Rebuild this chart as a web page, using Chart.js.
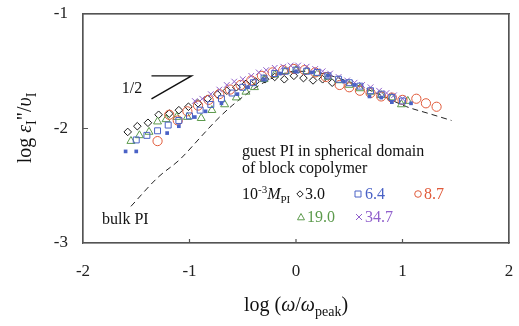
<!DOCTYPE html>
<html><head><meta charset="utf-8">
<script src="https://cdn.jsdelivr.net/npm/chart.js@4/dist/chart.umd.min.js"></script>
<style>html,body{margin:0;padding:0;background:#fff}canvas{display:block}</style>
</head><body>
<canvas id="c" width="519" height="326"></canvas>
<script>
// ---- data ----
const xTicks = [-2, -1, 0, 1, 2];
const yTicks = [-3, -2, -1];

const m30X = [-1.58,-1.49,-1.39,-1.29,-1.19,-1.10,-1.01,-0.92,-0.83,-0.74,-0.65,-0.56,-0.47,-0.38,-0.29,-0.20,-0.11,-0.02,0.07,0.16,0.25,0.34];
const m30Y = [-2.03,-1.98,-1.95,-1.88,-1.87,-1.84,-1.81,-1.78,-1.74,-1.70,-1.67,-1.64,-1.61,-1.59,-1.57,-1.55,-1.57,-1.54,-1.56,-1.58,-1.57,-1.60];

const m64X = [-1.50,-1.40,-1.30,-1.20,-1.10,-1.00,-0.90,-0.80,-0.70,-0.60,-0.50,-0.40,-0.30,-0.20,-0.10,0.00,0.10,0.20,0.30,0.40,0.50,0.60,0.70,0.80,0.90,1.00];
const m64Y = [-2.10,-2.06,-2.02,-1.97,-1.93,-1.89,-1.84,-1.79,-1.74,-1.69,-1.64,-1.60,-1.56,-1.52,-1.50,-1.49,-1.50,-1.51,-1.54,-1.57,-1.60,-1.63,-1.67,-1.70,-1.73,-1.76];

const m64fX = [-1.60,-1.50,-1.21,-1.10,-0.95,-0.85,-0.70,-0.55,-0.45,-0.30,-0.15,0.00,0.15,0.30,0.45,0.55,0.69,0.80,0.90,1.08];
const m64fY = [-2.20,-2.20,-2.04,-1.98,-1.90,-1.85,-1.78,-1.70,-1.64,-1.57,-1.52,-1.50,-1.51,-1.54,-1.59,-1.62,-1.72,-1.73,-1.77,-1.78];

const m87X = [-1.30,-1.19,-1.11,-1.02,-0.92,-0.82,-0.72,-0.62,-0.52,-0.42,-0.32,-0.22,-0.12,-0.02,0.08,0.18,0.28,0.41,0.50,0.60,0.70,0.80,0.90,1.00,1.13,1.22,1.32];
const m87Y = [-2.11,-1.88,-1.93,-1.85,-1.80,-1.75,-1.70,-1.66,-1.62,-1.58,-1.54,-1.51,-1.49,-1.48,-1.49,-1.51,-1.55,-1.62,-1.64,-1.67,-1.69,-1.72,-1.73,-1.75,-1.74,-1.78,-1.81];

const m190X = [-1.55,-1.47,-1.38,-1.30,-1.22,-1.12,-1.02,-0.89,-0.79,-0.67,-0.56,-0.47,-0.39,-0.30,-0.20,-0.10,0.00,0.10,0.20,0.30,0.40,0.50,0.60,0.70,0.80,0.90,0.99,1.05];
const m190Y = [-2.11,-2.06,-2.03,-1.94,-1.92,-1.90,-1.90,-1.91,-1.84,-1.79,-1.73,-1.68,-1.64,-1.57,-1.53,-1.50,-1.49,-1.50,-1.52,-1.55,-1.58,-1.62,-1.65,-1.68,-1.71,-1.73,-1.79,-1.76];

const m347X = [-0.95,-0.88,-0.80,-0.72,-0.65,-0.58,-0.50,-0.42,-0.35,-0.28,-0.20,-0.12,-0.05,0.02,0.10,0.18,0.25,0.32,0.40,0.48,0.55,0.62,0.70,0.78,0.85,0.92,1.00];
const m347Y = [-1.76,-1.74,-1.70,-1.66,-1.62,-1.59,-1.57,-1.54,-1.51,-1.49,-1.47,-1.46,-1.45,-1.45,-1.46,-1.48,-1.50,-1.52,-1.55,-1.58,-1.60,-1.62,-1.64,-1.67,-1.69,-1.71,-1.74];

const bulkX = [-1.55,-1.30,-1.09,-0.90,-0.75,-0.60,-0.39,-0.20,0.00,0.20,0.40,0.60,0.80,1.04,1.25,1.46];
const bulkY = [-2.68,-2.43,-2.27,-2.08,-1.93,-1.80,-1.65,-1.55,-1.50,-1.51,-1.56,-1.63,-1.71,-1.81,-1.87,-1.93];

const slopeX = [-1.357,-0.981,-1.357];
const slopeY = [-1.742,-1.540,-1.540];

// ---- colours ----
const cBlack = '#1a1a1a', cBlue = '#4a62c6', cRed = '#e05a3a', cGreen = '#5c9a4c', cPurple = '#9060cc';
const cFrame = '#555555';

const pts = (xs, ys) => xs.map((x, i) => ({x, y: ys[i]}));
const SERIF = '"Liberation Serif","DejaVu Serif",serif';

function drawRich(ctx, parts, x, y, align, baseSize) {
  const fontFor = p => (p.it ? 'italic ' : '') + Math.round((p.sub || p.sup) ? baseSize * 0.68 : baseSize) + 'px ' + SERIF;
  let w = 0;
  parts.forEach(p => { ctx.font = fontFor(p); w += ctx.measureText(p.t).width; });
  let cx = align === 'center' ? x - w / 2 : (align === 'right' ? x - w : x);
  ctx.textBaseline = 'alphabetic';
  ctx.textAlign = 'left';
  parts.forEach(p => {
    ctx.font = fontFor(p);
    ctx.fillStyle = p.color || '#111';
    let dy = p.sub ? baseSize * 0.25 : (p.sup ? -baseSize * 0.38 : 0);
    ctx.fillText(p.t, cx, y + dy);
    cx += ctx.measureText(p.t).width;
  });
  return cx;
}

function marker(ctx, type, x, y, color) {
  ctx.save();
  ctx.strokeStyle = color; ctx.lineWidth = 1;
  ctx.beginPath();
  const r = 3.2;
  if (type === 'diamond') { ctx.moveTo(x, y - r); ctx.lineTo(x + r, y); ctx.lineTo(x, y + r); ctx.lineTo(x - r, y); ctx.closePath(); }
  if (type === 'square') { ctx.rect(x - 3, y - 3, 6, 6); }
  if (type === 'circle') { ctx.arc(x, y, 3.3, 0, Math.PI * 2); }
  if (type === 'triangle') { ctx.moveTo(x, y - 3.5); ctx.lineTo(x + 3.5, y + 2.8); ctx.lineTo(x - 3.5, y + 2.8); ctx.closePath(); }
  if (type === 'cross') { ctx.moveTo(x - 3, y - 3); ctx.lineTo(x + 3, y + 3); ctx.moveTo(x + 3, y - 3); ctx.lineTo(x - 3, y + 3); }
  ctx.stroke();
  ctx.restore();
}

const decor = {
  id: 'decor',
  afterDraw(chart) {
    const {ctx, chartArea: a} = chart;
    const x = chart.scales.x, y = chart.scales.y;
    ctx.save();
    // frame (explicit, in addition to the axis borders)
    ctx.strokeStyle = cFrame;
    ctx.lineWidth = 1.2;
    ctx.setLineDash([]);
    ctx.beginPath();
    ctx.rect(a.left, a.top, a.right - a.left, a.bottom - a.top);
    ctx.stroke();
    // inward ticks
    ctx.beginPath();
    [-1, 0, 1].forEach(v => { const px = x.getPixelForValue(v); ctx.moveTo(px, a.bottom); ctx.lineTo(px, a.bottom - 4); });
    [-2].forEach(v => { const py = y.getPixelForValue(v); ctx.moveTo(a.left, py); ctx.lineTo(a.left + 5, py); });
    ctx.stroke();
    // tick labels
    ctx.fillStyle = '#222';
    ctx.font = '17px ' + SERIF;
    ctx.textBaseline = 'middle';
    ctx.textAlign = 'center';
    xTicks.forEach(v => ctx.fillText(String(v), x.getPixelForValue(v), a.bottom + 29));
    ctx.textAlign = 'right';
    yTicks.forEach(v => ctx.fillText(String(v), a.left - 15, y.getPixelForValue(v)));

    drawRich(ctx, [{t: 'log ('}, {t: 'ω', it: 1}, {t: '/'}, {t: 'ω', it: 1}, {t: 'peak', sub: 1}, {t: ')'}], 296, 311, 'center', 20);
    ctx.save();
    ctx.translate(31, 128);
    ctx.rotate(-Math.PI / 2);
    drawRich(ctx, [{t: 'log '}, {t: 'ε', it: 1}, {t: 'I', sub: 1}, {t: '"/'}, {t: 'υ', it: 1}, {t: 'I', sub: 1}], 0, 0, 'center', 20);
    ctx.restore();
    drawRich(ctx, [{t: '1/2'}], 132, 93, 'center', 16);
    drawRich(ctx, [{t: 'bulk PI'}], 102, 224, 'left', 16);
    drawRich(ctx, [{t: 'guest PI in spherical domain'}], 242, 156, 'left', 16);
    drawRich(ctx, [{t: 'of block copolymer'}], 242, 173, 'left', 16);
    drawRich(ctx, [{t: '10'}, {t: '-3', sup: 1}, {t: 'M', it: 1}, {t: 'PI', sub: 1}], 242, 199, 'left', 16);
    marker(ctx, 'diamond', 300, 194, cBlack);
    drawRich(ctx, [{t: '3.0', color: '#111'}], 305, 199, 'left', 16);
    marker(ctx, 'square', 358, 194, cBlue);
    drawRich(ctx, [{t: '6.4', color: cBlue}], 365, 199, 'left', 16);
    marker(ctx, 'circle', 418, 194, cRed);
    drawRich(ctx, [{t: '8.7', color: cRed}], 424, 199, 'left', 16);
    marker(ctx, 'triangle', 301, 217, cGreen);
    drawRich(ctx, [{t: '19.0', color: cGreen}], 307, 222, 'left', 16);
    marker(ctx, 'cross', 359, 217, cPurple);
    drawRich(ctx, [{t: '34.7', color: cPurple}], 365, 222, 'left', 16);
    ctx.restore();
  }
};

const edgeAxis = (pos, axis, min, max, size) => ({
  type: 'linear', position: pos, axis: axis, min: min, max: max, display: true,
  ticks: {display: false},
  grid: {display: true, drawOnChartArea: false, drawTicks: false, color: cFrame},
  border: {display: true, color: cFrame, width: 1.2},
  afterFit: s => { if (axis === 'x') s.height = size; else s.width = size; }
});

new Chart(document.getElementById('c'), {
  type: 'scatter',
  data: {
    datasets: [
      {label: '6.4f', data: pts(m64fX, m64fY), pointStyle: 'rect', pointRadius: 2.6, backgroundColor: cBlue, borderColor: cBlue, borderWidth: 0, order: 1},
      {label: '6.4', data: pts(m64X, m64Y), pointStyle: 'rect', pointRadius: 4.2, backgroundColor: 'rgba(0,0,0,0)', borderColor: cBlue, borderWidth: 1, order: 2},
      {label: '34.7', data: pts(m347X, m347Y), pointStyle: 'crossRot', pointRadius: 4, borderColor: cPurple, borderWidth: 1, order: 3},
      {label: '8.7', data: pts(m87X, m87Y), pointStyle: 'circle', pointRadius: 4.6, backgroundColor: 'rgba(0,0,0,0)', borderColor: cRed, borderWidth: 1, order: 4},
      {label: '19.0', data: pts(m190X, m190Y), pointStyle: 'triangle', pointRadius: 4.6, backgroundColor: 'rgba(0,0,0,0)', borderColor: cGreen, borderWidth: 1, order: 5},
      {label: '3.0', data: pts(m30X, m30Y), pointStyle: 'rectRot', pointRadius: 3.8, backgroundColor: 'rgba(0,0,0,0)', borderColor: cBlack, borderWidth: 1, order: 6},
      {label: 'bulk PI', data: pts(bulkX, bulkY), showLine: true, borderDash: [6, 4], borderColor: '#222', borderWidth: 1, pointRadius: 0, cubicInterpolationMode: 'monotone', order: 7},
      {label: 'slope', data: pts(slopeX, slopeY), showLine: true, borderColor: '#111', borderWidth: 1.4, pointRadius: 0, order: 8}
    ]
  },
  options: {
    responsive: false,
    animation: false,
    devicePixelRatio: 1,
    layout: {padding: {top: 14, right: 10, left: 0, bottom: 0}},
    plugins: {legend: {display: false}, tooltip: {enabled: false}},
    scales: {
      x: Object.assign(edgeAxis('bottom', 'x', -2, 2, 83), {
        afterBuildTicks: s => { s.ticks = xTicks.map(v => ({value: v})); }
      }),
      y: Object.assign(edgeAxis('left', 'y', -3, -1, 83), {
        afterBuildTicks: s => { s.ticks = yTicks.map(v => ({value: v})); }
      }),
      x2: Object.assign(edgeAxis('top', 'x', -2, 2, 0), {
        afterBuildTicks: s => { s.ticks = xTicks.map(v => ({value: v})); }
      }),
      y2: Object.assign(edgeAxis('right', 'y', -3, -1, 0), {
        afterBuildTicks: s => { s.ticks = yTicks.map(v => ({value: v})); }
      })
    }
  },
  plugins: [decor]
});
</script>
</body></html>
